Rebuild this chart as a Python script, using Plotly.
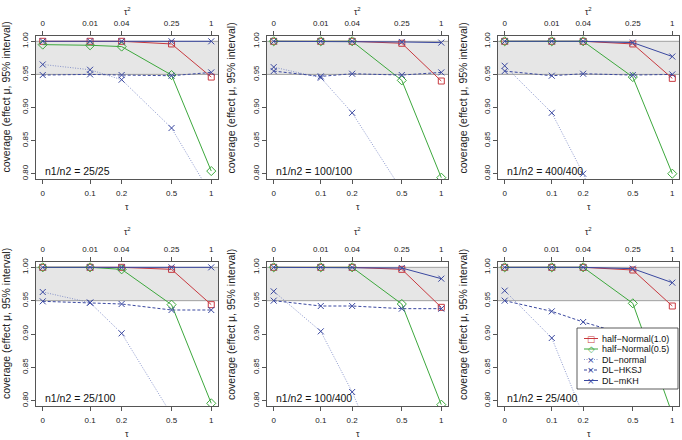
import numpy as np
import plotly.graph_objects as go

W, H = 682, 440

# ---------------- data ----------------
TAU = [0, 0.1, 0.2, 0.5, 1]
TAU_LABELS = ["0", "0.1", "0.2", "0.5", "1"]
TAU2_LABELS = ["0", "0.01", "0.04", "0.25", "1"]
Y_TICKS = [0.80, 0.85, 0.90, 0.95, 1.00]
Y_TICK_LABELS = ["0.80", "0.85", "0.90", "0.95", "1.00"]

PANEL_LABELS = ["n1/n2 = 25/25", "n1/n2 = 100/100", "n1/n2 = 400/400",
                "n1/n2 = 25/100", "n1/n2 = 100/400", "n1/n2 = 25/400"]

SERIES_NAMES = ["half\u2212Normal(1.0)", "half\u2212Normal(0.5)",
                "DL\u2212normal", "DL\u2212HKSJ", "DL\u2212mKH"]

HALF_NORMAL_10 = [
    [1.000, 1.000, 1.000, 0.996, 0.946],
    [1.000, 1.000, 1.000, 0.997, 0.940],
    [1.000, 1.000, 1.000, 0.996, 0.944],
    [1.000, 1.000, 1.000, 0.997, 0.944],
    [1.000, 1.000, 1.000, 0.997, 0.940],
    [1.000, 1.000, 1.000, 0.996, 0.942],
]
HALF_NORMAL_05 = [
    [0.995, 0.994, 0.992, 0.949, 0.804],
    [1.000, 1.000, 1.000, 0.941, 0.794],
    [1.000, 1.000, 1.000, 0.946, 0.800],
    [1.000, 1.000, 0.997, 0.944, 0.796],
    [1.000, 1.000, 1.000, 0.945, 0.794],
    [1.000, 1.000, 1.000, 0.946, 0.780],
]
DL_NORMAL = [
    [0.965, 0.957, 0.942, 0.869, 0.768],
    [0.961, 0.945, 0.892, 0.775, 0.600],
    [0.963, 0.892, 0.800, 0.620, 0.400],
    [0.963, 0.947, 0.901, 0.779, 0.600],
    [0.964, 0.904, 0.813, 0.640, 0.450],
    [0.965, 0.894, 0.778, 0.600, 0.450],
]
DL_HKSJ = [
    [0.949, 0.950, 0.949, 0.948, 0.953],
    [0.955, 0.947, 0.951, 0.949, 0.953],
    [0.955, 0.948, 0.951, 0.949, 0.950],
    [0.949, 0.947, 0.945, 0.936, 0.936],
    [0.950, 0.942, 0.942, 0.938, 0.938],
    [0.950, 0.934, 0.918, 0.896, 0.898],
]
DL_MKH = [
    [1.000, 1.000, 1.000, 1.000, 1.000],
    [1.000, 1.000, 1.000, 0.999, 0.998],
    [1.000, 1.000, 1.000, 0.998, 0.977],
    [1.000, 1.000, 1.000, 1.000, 1.000],
    [1.000, 1.000, 1.000, 0.999, 0.983],
    [1.000, 1.000, 1.000, 0.998, 0.977],
]
BAND = (0.95, 1.00)

# ---------------- styles ----------------
RED, GREEN, BLUE, LIGHTBLUE = "#C83A40", "#3DA83D", "#3A48A0", "#6F7DC0"
FRAME = "#555555"
FONT = "Liberation Sans, Arial, Helvetica, sans-serif"
STYLES = [
    dict(color=RED, lcolor=RED, dash="solid", width=1.0, symbol="square-open", size=6,
         glyph="\u25a1", gsize=8.5),
    dict(color=GREEN, lcolor=GREEN, dash="solid", width=1.0, symbol="diamond-open", size=7,
         glyph="\u25c7", gsize=8.5),
    dict(color=BLUE, lcolor=LIGHTBLUE, dash="1px,1.5px", width=0.8, symbol="x-thin-open",
         size=6, glyph="\u00d7", gsize=9),
    dict(color=BLUE, lcolor=BLUE, dash="3px,2px", width=1.0, symbol="x-thin-open", size=6,
         glyph="\u00d7", gsize=9),
    dict(color=BLUE, lcolor=BLUE, dash="solid", width=1.0, symbol="x-thin-open", size=6,
         glyph="\u00d7", gsize=9),
]
SERIES_DATA = [HALF_NORMAL_10, HALF_NORMAL_05, DL_NORMAL, DL_HKSJ, DL_MKH]

COL_PX = [(36, 218), (267, 448), (498, 679)]
ROW_PX = [(36, 179), (262, 406)]
YTITLE_OFF = [30, 36, 35]
TOP_TITLE_OFF = [24, 30]
TOP_STANDOFF = [2, 2]


def tau_scale(t):
    t = np.asarray(t, dtype=float)
    return np.arcsinh(t / 0.11) / np.arcsinh(1 / 0.11)


def px(x):
    return x / W


def py(y):
    return 1 - y / H


XS = tau_scale(TAU)
XR = [-0.04, 1.04]
YR = [0.792, 1.008]

fig = go.Figure()
layout = dict(width=W, height=H, margin=dict(l=0, r=0, t=0, b=0, autoexpand=False),
              paper_bgcolor="white", plot_bgcolor="white",
              font=dict(family=FONT, size=8, color="#222222"),
              showlegend=False)
shapes, annotations = [], []

for i in range(6):
    r, c = divmod(i, 3)
    (x0, x1), (y0, y1) = COL_PX[c], ROW_PX[r]
    xb = 2 * i + 1
    xt = 2 * i + 2
    yn = i + 1
    xb_ref = "x" if xb == 1 else f"x{xb}"
    xt_ref = f"x{xt}"
    y_ref = "y" if yn == 1 else f"y{yn}"
    xb_key = "xaxis" if xb == 1 else f"xaxis{xb}"
    y_key = "yaxis" if yn == 1 else f"yaxis{yn}"

    common_x = dict(domain=[px(x0), px(x1)], range=XR, tickmode="array",
                    tickvals=list(XS), showline=True, linecolor=FRAME, linewidth=1,
                    ticks="outside", ticklen=4, tickcolor=FRAME, tickwidth=1,
                    showgrid=False, zeroline=False, fixedrange=True,
                    tickfont=dict(size=8, color="#222222"))
    layout[xb_key] = dict(common_x, ticktext=TAU_LABELS, anchor=y_ref, side="bottom",
                          ticklabelstandoff=2)
    layout[f"xaxis{xt}"] = dict(common_x, ticktext=TAU2_LABELS, anchor=y_ref,
                                side="top", overlaying=xb_ref,
                                ticklabelstandoff=TOP_STANDOFF[r])
    layout[y_key] = dict(domain=[py(y1), py(y0)], range=YR, tickmode="array",
                         tickvals=Y_TICKS, ticktext=Y_TICK_LABELS, tickangle=-90,
                         showline=True, mirror=True, linecolor=FRAME, linewidth=1,
                         ticks="outside", ticklen=4, tickcolor=FRAME, tickwidth=1,
                         showgrid=False, zeroline=False, fixedrange=True,
                         anchor=xb_ref, tickfont=dict(size=8, color="#222222"))

    # shaded nominal band
    shapes.append(dict(type="rect", xref=f"{xb_ref} domain", yref=y_ref, x0=0, x1=1,
                       y0=BAND[0], y1=BAND[1], fillcolor="#E6E6E6", line=dict(width=0),
                       layer="below"))
    for yv in BAND:
        shapes.append(dict(type="line", xref=f"{xb_ref} domain", yref=y_ref, x0=0, x1=1,
                           y0=yv, y1=yv, line=dict(color="#A0A0A0", width=1), layer="below"))

    for name, data, st in zip(SERIES_NAMES, SERIES_DATA, STYLES):
        fig.add_trace(go.Scatter(
            x=XS, y=data[i], mode="lines+markers", name=name,
            xaxis=xb_ref, yaxis=y_ref, showlegend=False, cliponaxis=True,
            line=dict(color=st["lcolor"], width=st["width"], dash=st["dash"]),
            marker=dict(symbol=st["symbol"], size=st["size"], color=st["color"],
                        line=dict(color=st["color"], width=1)),
        ))
    # empty trace so that the secondary (tau^2) top axis is registered and drawn
    fig.add_trace(go.Scatter(x=[], y=[], xaxis=xt_ref, yaxis=y_ref, showlegend=False,
                             hoverinfo="skip"))

    cx = (x0 + x1) / 2
    annotations.append(dict(text=PANEL_LABELS[i], xref="paper", yref="paper",
                            x=px(x0 + 7), y=py(y1 - 8), xanchor="left", yanchor="middle",
                            showarrow=False, font=dict(size=10.5, color="#111111")))
    annotations.append(dict(text="\u03c4<sup>2</sup>", xref="paper", yref="paper",
                            x=px(cx), y=py(y0 - TOP_TITLE_OFF[r]), xanchor="center",
                            yanchor="middle", showarrow=False,
                            font=dict(size=8.5, color="#222222")))
    annotations.append(dict(text="\u03c4", xref="paper", yref="paper",
                            x=px(cx), y=py(y1 + 28), xanchor="center",
                            yanchor="middle", showarrow=False,
                            font=dict(size=9, color="#222222")))
    annotations.append(dict(text="coverage (effect \u03bc, 95% interval)", xref="paper",
                            yref="paper", x=px(x0 - YTITLE_OFF[c]),
                            y=py((y0 + y1) / 2 - 10),
                            xanchor="center", yanchor="middle", textangle=-90,
                            showarrow=False, font=dict(size=10.5, color="#222222")))

# ---------------- legend (bottom-right panel) ----------------
LX0, LX1, LY0, LY1 = 577, 678, 328, 389
shapes.append(dict(type="rect", xref="paper", yref="paper", x0=px(LX0), x1=px(LX1),
                   y0=py(LY1), y1=py(LY0), fillcolor="white",
                   line=dict(color="#333333", width=0.8), layer="above"))
for k, (name, st) in enumerate(zip(SERIES_NAMES, STYLES)):
    ry = 338.5 + k * 10.5
    shapes.append(dict(type="line", xref="paper", yref="paper", x0=px(584), x1=px(598),
                       y0=py(ry), y1=py(ry), layer="above",
                       line=dict(color=st["lcolor"], width=st["width"], dash=st["dash"])))
    annotations.append(dict(text=st["glyph"], xref="paper", yref="paper", x=px(591),
                            y=py(ry), xanchor="center", yanchor="middle", showarrow=False,
                            font=dict(size=st["gsize"], color=st["color"],
                                      family="DejaVu Sans")))
    annotations.append(dict(text=name, xref="paper", yref="paper", x=px(600), y=py(ry),
                            xanchor="left", yanchor="middle", showarrow=False,
                            font=dict(size=9, color="#111111")))

layout["shapes"] = shapes
layout["annotations"] = annotations
fig.update_layout(**layout)
fig.write_html("out.html", config={"displayModeBar": False},
               post_script="document.body.style.margin='0';document.body.style.padding='0';")
